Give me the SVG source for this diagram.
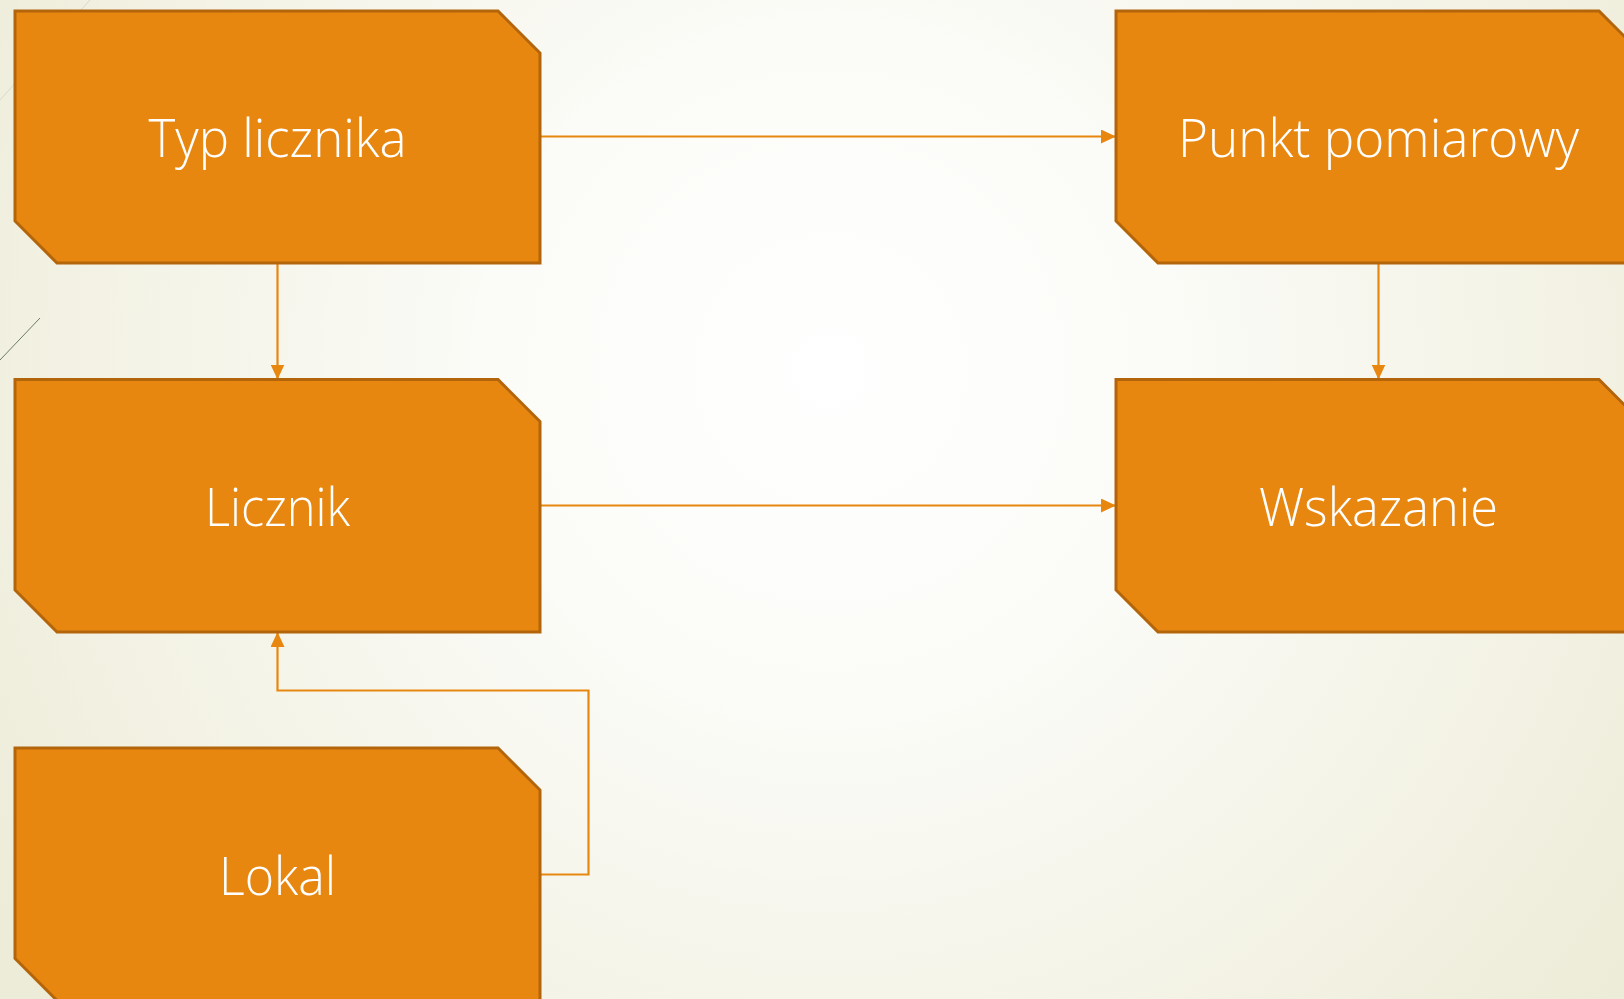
<svg xmlns="http://www.w3.org/2000/svg" width="1624" height="999" viewBox="0 0 1624 999">
  <defs>
    <radialGradient id="bg" cx="830" cy="370" r="1000" gradientUnits="userSpaceOnUse">
      <stop offset="0" stop-color="#FFFFFF"/>
      <stop offset="0.35" stop-color="#FBFBF7"/>
      <stop offset="1" stop-color="#EDECD8"/>
    </radialGradient>
    <marker id="arr" markerUnits="userSpaceOnUse" markerWidth="15" markerHeight="14" refX="15" refY="7" orient="auto">
      <path d="M0,0 L15,7 L0,14 Z" fill="#E8870F"/>
    </marker>
    <style>
      .node { fill: #E8870F; stroke: #B3650C; stroke-width: 3; stroke-linejoin: miter; }
      .label { fill: #FFFFFF; font-family: "Open Sans", "Liberation Sans", sans-serif; font-weight: 300; font-size: 54px; text-anchor: middle; }
      .conn { fill: none; stroke: #E8870F; stroke-width: 2.2; }
      .deco { fill: none; stroke-width: 1; }
    </style>
  </defs>

  <rect x="0" y="0" width="1624" height="999" fill="url(#bg)"/>
  <g id="decoration">
    <line class="deco" x1="90" y1="0" x2="0" y2="100" stroke="#D9D9C6"/>
    <line class="deco" x1="40" y1="318" x2="0" y2="360" stroke="#6E7A60"/>
  </g>

  <g id="connectors">
    <path class="conn" d="M540,136.5 H1116" marker-end="url(#arr)"/>
    <path class="conn" d="M277.5,263 V379.5" marker-end="url(#arr)"/>
    <path class="conn" d="M1378.5,263 V379.5" marker-end="url(#arr)"/>
    <path class="conn" d="M540,505.5 H1116" marker-end="url(#arr)"/>
    <path class="conn" d="M540,874.5 H588.5 V690.5 H277.5 V632" marker-end="url(#arr)"/>
  </g>

  <g id="node-typ-licznika">
    <polygon class="node" points="15,11 498,11 540,53 540,263 57,263 15,221"/>
    <text class="label" x="277.5" y="157" textLength="258" lengthAdjust="spacingAndGlyphs">Typ licznika</text>
  </g>
  <g id="node-licznik">
    <polygon class="node" points="15,379.5 498,379.5 540,421.5 540,632 57,632 15,590"/>
    <text class="label" x="277.5" y="526" textLength="145" lengthAdjust="spacingAndGlyphs">Licznik</text>
  </g>
  <g id="node-lokal">
    <polygon class="node" points="15,748 498,748 540,790 540,1000.5 57,1000.5 15,958.5"/>
    <text class="label" x="277.5" y="895" textLength="117" lengthAdjust="spacingAndGlyphs">Lokal</text>
  </g>
  <g id="node-punkt-pomiarowy">
    <polygon class="node" points="1116,11 1599,11 1641,53 1641,263 1158,263 1116,221"/>
    <text class="label" x="1378.5" y="157" textLength="401" lengthAdjust="spacingAndGlyphs">Punkt pomiarowy</text>
  </g>
  <g id="node-wskazanie">
    <polygon class="node" points="1116,379.5 1599,379.5 1641,421.5 1641,632 1158,632 1116,590"/>
    <text class="label" x="1378.5" y="526" textLength="239" lengthAdjust="spacingAndGlyphs">Wskazanie</text>
  </g>
</svg>
